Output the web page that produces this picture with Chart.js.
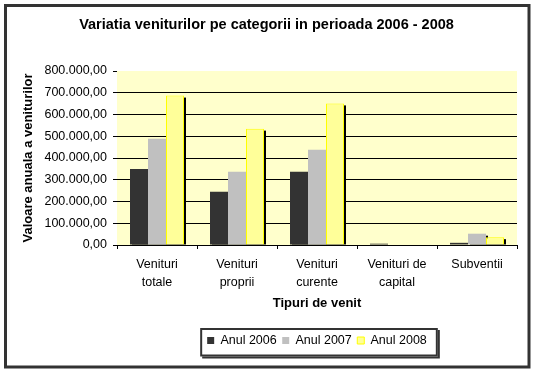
<!DOCTYPE html>
<html>
<head>
<meta charset="utf-8">
<script src="https://cdn.jsdelivr.net/npm/chart.js@4.4.0/dist/chart.umd.min.js"></script>
<style>
  html, body { margin: 0; padding: 0; background: #fff; }
</style>
</head>
<body>
<canvas id="venituriChart" width="536" height="373"></canvas>
<script>
// Chart data
const categories = [['Venituri', 'totale'], ['Venituri', 'proprii'], ['Venituri', 'curente'], ['Venituri de', 'capital'], 'Subventii'];
const anul2006 = [350000, 245000, 337000, 6000, 10000];
const anul2007 = [489000, 337000, 438000, 0, 52000];
const anul2008 = [687000, 535000, 651000, 0, 36000];
const tickLabels = ['0,00', '100.000,00', '200.000,00', '300.000,00', '400.000,00',
    '500.000,00', '600.000,00', '700.000,00', '800.000,00'];

const FONT = "'Liberation Sans', Arial, sans-serif";

// White page, outer frame, legend frame and plot background
const framePlugin = {
    id: 'framePlugin',
    beforeDraw(chart) {
        const { ctx, chartArea: a } = chart;
        ctx.save();
        ctx.fillStyle = '#fff';
        ctx.fillRect(0, 0, chart.width, chart.height);

        ctx.strokeStyle = '#333';
        ctx.lineWidth = 3;
        ctx.strokeRect(5.5, 5.5, 523.5, 361.5);

        const hb = chart.legend.legendHitBoxes;
        if (hb && hb.length) {
            const first = hb[0];
            const last = hb[hb.length - 1];
            const cy = first.top + first.height / 2;
            const x0 = first.left - 7;
            const x1 = last.left + last.width + 11;
            const y0 = cy - 12.5;
            const y1 = cy + 16;
            ctx.fillStyle = '#333';
            ctx.fillRect(x0 + 2, y0 + 2, x1 - x0, y1 - y0);
            ctx.fillStyle = '#fff';
            ctx.fillRect(x0, y0, x1 - x0, y1 - y0);
            ctx.lineWidth = 2;
            ctx.strokeRect(x0 + 1, y0 + 1, x1 - x0 - 2, y1 - y0 - 2);
        }

        ctx.fillStyle = '#ffffcc';
        ctx.fillRect(a.left, a.top, a.right - a.left, a.bottom - a.top);
        ctx.restore();
    }
};

// Black drop shadow behind every bar
const barShadow = {
    id: 'barShadow',
    beforeDatasetsDraw(chart) {
        const { ctx } = chart;
        ctx.save();
        ctx.fillStyle = '#000';
        chart.data.datasets.forEach((ds, i) => {
            chart.getDatasetMeta(i).data.forEach(bar => {
                const { x, y, base, width } = bar.getProps(['x', 'y', 'base', 'width'], true);
                const h = base - y - 2;
                if (h > 0) ctx.fillRect(x - width / 2 + 2, y + 2, width, h);
            });
        });
        ctx.restore();
    }
};

function createVenituriChart() {
    const ctx = document.getElementById('venituriChart').getContext('2d');

    const data = {
        labels: categories,
        datasets: [
            { label: 'Anul 2006', data: anul2006, backgroundColor: '#333333', borderWidth: 0 },
            { label: 'Anul 2007', data: anul2007, backgroundColor: '#c0c0c0', borderWidth: 0 },
            { label: 'Anul 2008', data: anul2008, backgroundColor: '#ffff99', borderColor: '#ffff00', borderWidth: 1 }
        ]
    };

    const config = {
        type: 'bar',
        data: data,
        options: {
            responsive: false,
            animation: false,
            categoryPercentage: 0.675,
            barPercentage: 1,
            layout: { padding: { left: 16, right: 19, top: 0, bottom: 16.25 } },
            scales: {
                y: {
                    min: 0,
                    max: 800000,
                    afterFit(scale) { scale.width = 101; },
                    ticks: {
                        stepSize: 100000,
                        padding: 6,
                        color: '#000',
                        font: { family: FONT, size: 12.5 },
                        callback: (value, index) => tickLabels[index]
                    },
                    grid: {
                        color: c => (c.tick && c.tick.value === 800000) ? 'rgba(0,0,0,0)' : '#000',
                        tickColor: '#000',
                        tickLength: 4
                    },
                    border: { display: false },
                    title: {
                        display: true,
                        text: 'Valoare anuala a veniturilor',
                        color: '#000',
                        font: { family: FONT, size: 13, weight: 'bold' },
                        padding: { top: 4.7, bottom: 0 }
                    }
                },
                x: {
                    afterFit(scale) { scale.height = 83.75; },
                    ticks: {
                        padding: 7,
                        color: '#000',
                        maxRotation: 0,
                        autoSkip: false,
                        font: { family: FONT, size: 12.5, lineHeight: 1.4 }
                    },
                    grid: {
                        drawOnChartArea: false,
                        tickColor: '#000',
                        tickLength: 4
                    },
                    border: { color: '#000', width: 1 },
                    title: {
                        display: true,
                        text: 'Tipuri de venit',
                        color: '#000',
                        font: { family: FONT, size: 13, weight: 'bold' },
                        padding: { top: 0, bottom: 18 }
                    }
                }
            },
            plugins: {
                title: {
                    display: true,
                    text: 'Variatia veniturilor pe categorii in perioada 2006 - 2008',
                    color: '#000',
                    font: { family: FONT, size: 14.5, weight: 'bold' },
                    padding: { top: 16.3, bottom: 37.3 }
                },
                legend: {
                    position: 'bottom',
                    fullSize: false,
                    labels: {
                        boxWidth: 7,
                        boxHeight: 7,
                        padding: 5.5,
                        color: '#000',
                        font: { family: FONT, size: 12.5 }
                    }
                },
                tooltip: { enabled: false }
            }
        },
        plugins: [framePlugin, barShadow]
    };

    return new Chart(ctx, config);
}

document.addEventListener('DOMContentLoaded', () => {
    createVenituriChart();
});
</script>
</body>
</html>
